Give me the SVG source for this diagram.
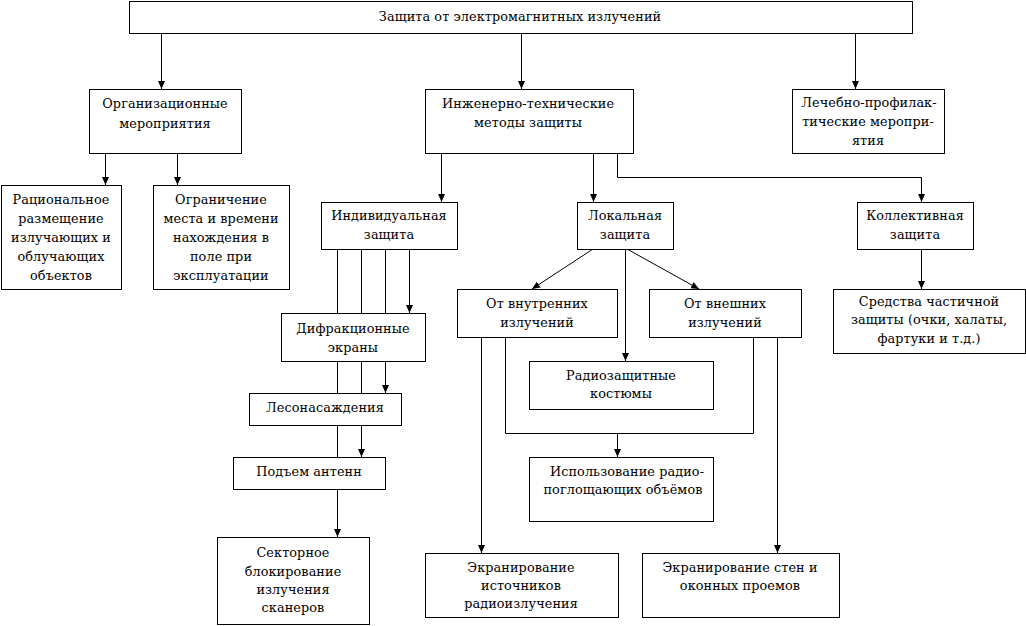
<svg xmlns="http://www.w3.org/2000/svg" width="1026" height="626" viewBox="0 0 1026 626">
<style>
.b{fill:#fff;stroke:#000;stroke-width:1}
.c{fill:none;stroke:#000;stroke-width:1}
.t text{font-family:'DejaVu Serif','Liberation Serif',serif;font-size:12.8px;letter-spacing:0.1px;fill:#000;text-anchor:middle}
</style>
<defs>
<marker id="ah" markerUnits="userSpaceOnUse" markerWidth="8" markerHeight="8" refX="8" refY="3.5" orient="auto">
<path d="M0,0 L8,3.5 L0,7 z" fill="#000"/>
</marker>
</defs>
<rect width="1026" height="626" fill="#fff"/>
<g id="connectors" class="c">
<path class="c" d="M161.5 33 V89" marker-end="url(#ah)"/>
<path class="c" d="M521.5 33 V89" marker-end="url(#ah)"/>
<path class="c" d="M855.5 33 V89" marker-end="url(#ah)"/>
<path class="c" d="M105.5 153 V185" marker-end="url(#ah)"/>
<path class="c" d="M177.5 153 V185" marker-end="url(#ah)"/>
<path class="c" d="M441.5 153 V202" marker-end="url(#ah)"/>
<path class="c" d="M593.5 153 V202" marker-end="url(#ah)"/>
<path class="c" d="M617.5 153 V177.5 H921.5 V202" marker-end="url(#ah)"/>
<path class="c" d="M409.5 249 V313" marker-end="url(#ah)"/>
<path class="c" d="M385.5 249 V393" marker-end="url(#ah)"/>
<path class="c" d="M361.5 249 V457" marker-end="url(#ah)"/>
<path class="c" d="M337.5 249 V537" marker-end="url(#ah)"/>
<path class="c" d="M593 249 L532 289" marker-end="url(#ah)"/>
<path class="c" d="M625.5 249 V361" marker-end="url(#ah)"/>
<path class="c" d="M627 249 L699 289" marker-end="url(#ah)"/>
<path class="c" d="M921.5 249 V289" marker-end="url(#ah)"/>
<path class="c" d="M481.5 337 V553" marker-end="url(#ah)"/>
<path class="c" d="M777.5 337 V553" marker-end="url(#ah)"/>
<path class="c" d="M505.5 337 V433.5 H753.5 V337"/>
<path class="c" d="M617.5 433 V457" marker-end="url(#ah)"/>
</g>
<g class="t">
<g id="n-root"><rect class="b" x="129.5" y="1.5" width="783" height="32"/><text x="520" y="21">Защита от электромагнитных излучений</text></g>
<g id="n-org"><rect class="b" x="89.5" y="89.5" width="152" height="64"/><text x="165" y="108">Организационные</text><text x="165" y="128">мероприятия</text></g>
<g id="n-eng"><rect class="b" x="425.5" y="89.5" width="208" height="64"/><text x="528" y="108">Инженерно-технические</text><text x="528" y="127">методы защиты</text></g>
<g id="n-med"><rect class="b" x="792.5" y="89.5" width="152" height="64"/><text x="869" y="107">Лечебно-профилак-</text><text x="868" y="126">тические меропри-</text><text x="868" y="145">ятия</text></g>
<g id="n-rat"><rect class="b" x="1.5" y="185.5" width="120" height="104"/><text x="61" y="204">Рациональное</text><text x="61" y="223">размещение</text><text x="61" y="242">излучающих и</text><text x="61" y="261">облучающих</text><text x="61" y="280">объектов</text></g>
<g id="n-lim"><rect class="b" x="153.5" y="185.5" width="136" height="104"/><text x="221" y="204">Ограничение</text><text x="221" y="223">места и времени</text><text x="221" y="242">нахождения в</text><text x="221" y="261">поле при</text><text x="221" y="280">эксплуатации</text></g>
<g id="n-ind"><rect class="b" x="321.5" y="202.5" width="136" height="47"/><text x="389" y="220">Индивидуальная</text><text x="389" y="239">защита</text></g>
<g id="n-loc"><rect class="b" x="577.5" y="202.5" width="96" height="47"/><text x="625" y="220">Локальная</text><text x="625" y="239">защита</text></g>
<g id="n-col"><rect class="b" x="857.5" y="202.5" width="116" height="47"/><text x="915" y="220">Коллективная</text><text x="915" y="239">защита</text></g>
<g id="n-dif"><rect class="b" x="281.5" y="313.5" width="144" height="48"/><text x="353" y="333">Дифракционные</text><text x="353" y="352">экраны</text></g>
<g id="n-int"><rect class="b" x="457.5" y="289.5" width="160" height="48"/><text x="537" y="308">От внутренних</text><text x="537" y="327">излучений</text></g>
<g id="n-ext"><rect class="b" x="649.5" y="289.5" width="152" height="48"/><text x="725" y="308">От внешних</text><text x="725" y="327">излучений</text></g>
<g id="n-sred"><rect class="b" x="833.5" y="289.5" width="192" height="64"/><text x="929" y="306">Средства частичной</text><text x="929" y="324">защиты (очки, халаты,</text><text x="929" y="343">фартуки и т.д.)</text></g>
<g id="n-suit"><rect class="b" x="529.5" y="361.5" width="184" height="48"/><text x="621" y="380">Радиозащитные</text><text x="621" y="398">костюмы</text></g>
<g id="n-les"><rect class="b" x="249.5" y="393.5" width="152" height="32"/><text x="325" y="412">Лесонасаждения</text></g>
<g id="n-ant"><rect class="b" x="233.5" y="457.5" width="152" height="32"/><text x="309" y="476">Подъем антенн</text></g>
<g id="n-abs"><rect class="b" x="529.5" y="457.5" width="184" height="64"/><text x="627" y="476">Использование радио-</text><text x="623" y="494">поглощающих объёмов</text></g>
<g id="n-sec"><rect class="b" x="217.5" y="537.5" width="152" height="87"/><text x="293" y="557">Секторное</text><text x="293" y="576">блокирование</text><text x="293" y="594">излучения</text><text x="293" y="612">сканеров</text></g>
<g id="n-src"><rect class="b" x="425.5" y="553.5" width="193" height="64"/><text x="521" y="572">Экранирование</text><text x="521" y="590">источников</text><text x="521" y="608">радиоизлучения</text></g>
<g id="n-wall"><rect class="b" x="642.5" y="553.5" width="197" height="64"/><text x="740" y="572">Экранирование стен и</text><text x="740" y="590">оконных проемов</text></g>
</g>
</svg>
